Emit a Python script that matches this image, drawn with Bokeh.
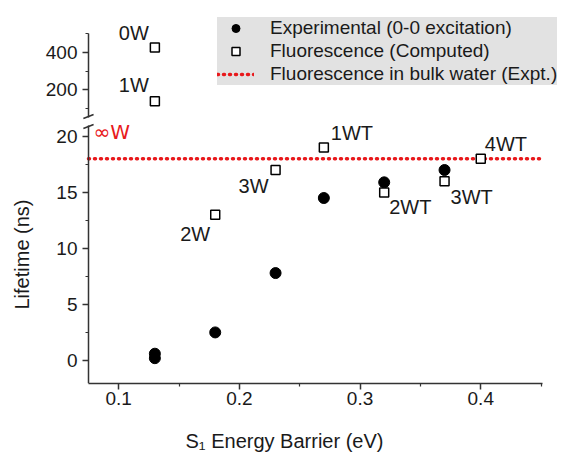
import math
from bokeh.plotting import figure
from bokeh.layouts import column
from bokeh.models import (FixedTicker, Label, Legend, LegendItem, Range1d,
                          LinearAxis)
from bokeh.embed import file_html
from bokeh.resources import INLINE

# ---------------- data ----------------
exp_barrier = [0.13, 0.13, 0.18, 0.23, 0.27, 0.32, 0.37]
exp_lifetime = [0.2, 0.6, 2.5, 7.8, 14.5, 15.9, 17.0]

comp_labels = ["0W", "1W", "2W", "3W", "1WT", "2WT", "3WT", "4WT"]
comp_barrier = [0.13, 0.13, 0.18, 0.23, 0.27, 0.32, 0.37, 0.40]
comp_lifetime = [425, 140, 13.0, 17.0, 19.0, 15.0, 16.0, 18.0]

bulk_water_lifetime = 18.0
bulk_label = "\u221eW"

x_ticks = [0.1, 0.2, 0.3, 0.4]
x_minor = [0.15, 0.25, 0.35, 0.45]
y_low_ticks = [0, 5, 10, 15, 20]
y_low_minor = [2.5, 7.5, 12.5, 17.5]
y_high_ticks = [200, 400]
y_high_minor = [100, 300, 500]

# ---------------- layout / style ----------------
FONT = "Liberation Sans"
TXT = "#1a1a1a"
RED = "#e8191c"
AX = "#333333"
label_offsets = {
    "0W": (-6, 15, "right"), "1W": (-6, 16, "right"),
    "2W": (-5, -19, "right"), "3W": (-7, -16, "right"),
    "1WT": (7, 15, "left"), "2WT": (5, -15, "left"),
    "3WT": (6, -16, "left"), "4WT": (4, 15, "left"),
}

FRAME_W = 568          # frame width in px (both panels)
TOP_H = 120            # upper frame height in px
LOW_H = 265            # lower frame height in px

# x axis extent and the (wider) plotting frame around it
x_axis_bounds = (0.075, 0.451)
xr = Range1d(0.0021, 0.4727)
# lower (linear, ns) panel and upper (compressed) panel
low_bounds = (-2.06, 20.97)
yr_low = Range1d(-2.06, 21.42)
high_bounds = (53.2, 500)
yr_high = Range1d(37.2, 675.5)

split = low_bounds[1]   # values above this belong to the upper panel
nan = float("nan")


def only(vals, upper):
    return [v if ((v > split) == upper) else nan for v in vals]


def style(p):
    p.xgrid.visible = False
    p.ygrid.visible = False
    p.outline_line_color = None
    p.background_fill_color = "white"
    p.border_fill_color = "white"


def style_axis(ax):
    ax.axis_line_color = AX
    ax.axis_line_width = 1.5
    ax.major_tick_line_color = AX
    ax.major_tick_line_width = 1.5
    ax.minor_tick_line_color = AX
    ax.minor_tick_line_width = 1.2
    ax.major_tick_out = 6
    ax.major_tick_in = 0
    ax.minor_tick_out = 3
    ax.minor_tick_in = 0
    ax.major_label_text_font = FONT
    ax.major_label_text_font_size = "19px"
    ax.major_label_text_color = TXT
    ax.major_label_standoff = 5
    ax.axis_label_text_font = FONT
    ax.axis_label_text_font_size = "20px"
    ax.axis_label_text_font_style = "normal"
    ax.axis_label_text_color = TXT


def break_mark(p, yr, frame_h, y_anchor, dy_px):
    # a short slanted stroke (11 px, ~22 deg) across the y axis
    ux = (xr.end - xr.start) / FRAME_W
    uy = (yr.end - yr.start) / frame_h
    half = 5.5
    ang = math.radians(22)
    cx = x_axis_bounds[0]
    cy = y_anchor + dy_px * uy
    dx = half * math.cos(ang) * ux
    dyv = half * math.sin(ang) * uy
    p.segment(x0=[cx - dx], y0=[cy - dyv], x1=[cx + dx], y1=[cy + dyv],
              line_color=AX, line_width=1.6)


# ---------------- upper panel ----------------
top = figure(width=571, height=TOP_H, x_range=xr, y_range=yr_high,
             x_axis_location=None, y_axis_location=None,
             toolbar_location=None, output_backend="svg",
             min_border_left=0, min_border_right=3, min_border_top=0,
             min_border_bottom=0)
style(top)
ax_top = LinearAxis(fixed_location=x_axis_bounds[0], bounds=high_bounds,
                    ticker=FixedTicker(ticks=y_high_ticks,
                                       minor_ticks=y_high_minor))
style_axis(ax_top)
top.add_layout(ax_top, "left")

r_c_top = top.scatter(exp_barrier, only(exp_lifetime, True), marker="circle",
                      size=11, color="black")
r_s_top = top.scatter(comp_barrier, only(comp_lifetime, True),
                      marker="square", size=9, fill_color="white",
                      line_color="black", line_width=1.5)
r_l_top = top.line(x=list(x_axis_bounds),
                   y=only([bulk_water_lifetime, bulk_water_lifetime], True),
                   line_color=RED, line_width=3.5, line_dash="1 5",
                   line_cap="round")

legend = Legend(items=[
    LegendItem(label="Experimental (0-0 excitation)", renderers=[r_c_top]),
    LegendItem(label="Fluorescence (Computed)", renderers=[r_s_top]),
    LegendItem(label="Fluorescence in bulk water (Expt.)", renderers=[r_l_top]),
], location=(217, 35))
legend.background_fill_color = "#e2e2e2"
legend.background_fill_alpha = 1
legend.border_line_color = None
legend.padding = 10
legend.spacing = 1
legend.glyph_width = 37
legend.glyph_height = 20
legend.label_height = 20
legend.label_standoff = 16
legend.label_text_font = FONT
legend.label_text_font_size = "19px"
legend.label_text_color = TXT
legend.margin = 0
top.add_layout(legend)

# ---------------- lower panel ----------------
bot = figure(width=571, height=LOW_H + 69, x_range=xr, y_range=yr_low,
             x_axis_location=None, y_axis_location=None,
             toolbar_location=None, output_backend="svg",
             min_border_left=0, min_border_right=3, min_border_top=0,
             min_border_bottom=69)
style(bot)
ax_left = LinearAxis(fixed_location=x_axis_bounds[0], bounds=low_bounds,
                     axis_label="Lifetime (ns)",
                     ticker=FixedTicker(ticks=y_low_ticks,
                                        minor_ticks=y_low_minor))
style_axis(ax_left)
ax_left.axis_label_standoff = 20
bot.add_layout(ax_left, "left")

ax_below = LinearAxis(bounds=x_axis_bounds,
                      axis_label="S\u2081 Energy Barrier (eV)",
                      ticker=FixedTicker(ticks=x_ticks, minor_ticks=x_minor))
style_axis(ax_below)
ax_below.major_label_standoff = 2
ax_below.axis_label_standoff = 22
bot.add_layout(ax_below, "below")

bot.line(x=list(x_axis_bounds), y=[bulk_water_lifetime, bulk_water_lifetime],
         line_color=RED, line_width=3.5, line_dash="1 5", line_cap="round")
bot.scatter(exp_barrier, only(exp_lifetime, False), marker="circle", size=11,
            color="black")
bot.scatter(comp_barrier, only(comp_lifetime, False), marker="square", size=9,
            fill_color="white", line_color="black", line_width=1.5)

# point labels
for name, xv, yv in zip(comp_labels, comp_barrier, comp_lifetime):
    dx, dy, align = label_offsets[name]
    target = top if yv > split else bot
    target.add_layout(Label(x=xv, y=yv, text=name, x_offset=dx, y_offset=dy,
                            text_align=align, text_baseline="middle",
                            text_font=FONT, text_font_size="20px",
                            text_color=TXT))

bot.add_layout(Label(x=x_axis_bounds[0], y=bulk_water_lifetime,
                     text=bulk_label, x_offset=5, y_offset=27,
                     text_align="left", text_baseline="middle",
                     text_font="DejaVu Sans", text_font_size="20px",
                     text_color=RED))

# axis break marks: one just below the upper axis, one just above the lower
break_mark(top, yr_high, TOP_H, high_bounds[0], 1)
break_mark(bot, yr_low, LOW_H, low_bounds[1], -1)

layout = column(top, bot)
open("out.html", "w").write(file_html(layout, INLINE))
